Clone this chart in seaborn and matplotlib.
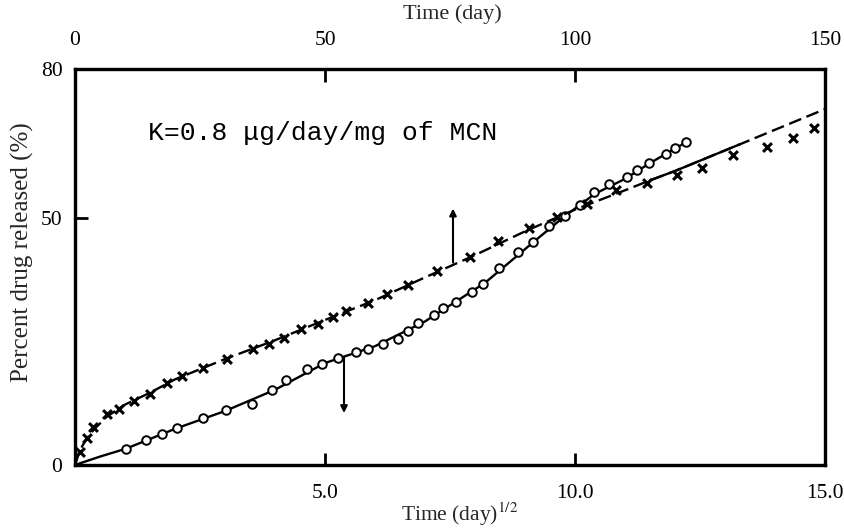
import numpy as np
import pandas as pd
import matplotlib
matplotlib.use("Agg")
import matplotlib.pyplot as plt
import seaborn as sns

# ---- data ----
# crosses: plotted against Time (day) on the top axis
cross_days = [1.0, 2.4, 3.6, 6.4, 8.8, 11.8, 15.0, 18.4, 21.4, 25.6, 30.4, 35.6,
              38.8, 41.8, 45.2, 48.6, 51.6, 54.2, 58.6, 62.4, 66.6, 72.4, 79.0,
              84.6, 90.8, 96.4, 102.4, 108.2, 114.4, 120.4, 125.4, 131.6, 138.4,
              143.6, 147.8]
cross_pct = [2.6, 5.5, 7.6, 10.3, 11.3, 13.0, 14.4, 16.6, 18.0, 19.6, 21.5, 23.5,
             24.5, 25.7, 27.5, 28.5, 29.9, 31.2, 32.8, 34.6, 36.4, 39.1, 42.1,
             45.3, 47.8, 50.2, 52.8, 55.5, 56.9, 58.5, 59.9, 62.6, 64.2, 66.0, 68.0]
# fitted curve through the crosses (top axis)
cross_fit_days = [0, 1, 2.4, 4, 6.4, 10, 15, 20, 30, 40, 50, 60, 70, 80, 90,
                  100, 110, 115, 120, 133, 150]
cross_fit_pct = [0, 3.0, 5.5, 7.4, 9.8, 12.2, 14.6, 17.3, 21.4, 25.2, 29.3, 33.3,
                 37.9, 42.4, 47.2, 51.6, 55.5, 57.5, 59.4, 64.8, 71.9]
# open circles: plotted against Time (day)^1/2 on the bottom axis
circle_sqrt = [1.02, 1.42, 1.74, 2.04, 2.56, 3.02, 3.54, 3.94, 4.22, 4.64, 4.94,
               5.26, 5.62, 5.86, 6.16, 6.46, 6.66, 6.86, 7.18, 7.36, 7.62, 7.94,
               8.16, 8.48, 8.86, 9.16, 9.48, 9.80, 10.10, 10.38, 10.68, 11.04,
               11.24, 11.48, 11.82, 12.00, 12.22]
circle_pct = [3.2, 5.1, 6.3, 7.5, 9.5, 11.1, 12.3, 15.2, 17.2, 19.4, 20.4, 21.7,
              22.9, 23.5, 24.5, 25.5, 27.0, 28.7, 30.4, 31.8, 33.0, 35.0, 36.6,
              39.7, 43.1, 45.1, 48.2, 50.4, 52.6, 55.1, 56.7, 58.1, 59.5, 61.1,
              62.8, 64.0, 65.2]
circle_fit_sqrt = [0, 0.5, 1.02, 2, 3, 4, 5, 6, 7, 7.6, 8.2, 8.6, 9.2, 9.8,
                   10.4, 11.0, 11.5, 12.22]
circle_fit_pct = [0, 1.7, 3.3, 7.3, 10.9, 15.2, 20.6, 24.0, 29.0, 32.9, 36.8,
                  40.2, 45.3, 50.3, 54.8, 57.8, 61.0, 65.2]
solid_segment_days = [115, 133]

bottom_ticks = [5.0, 10.0, 15.0]
bottom_tick_labels = ["5.0", "10.0", "15.0"]
top_ticks = [0, 50, 100, 150]
y_ticks = [0, 50, 80]
annotation = "K=0.8 \u03bcg/day/mg of MCN"
up_arrow_day = 75.6
up_arrow_pct = [40.9, 51.8]
down_arrow_sqrt = 5.38
down_arrow_pct = [21.7, 10.5]

# ---- styling ----
sns.set_theme(style="white")
plt.rcParams["font.family"] = ["Liberation Serif", "DejaVu Serif"]
plt.rcParams["mathtext.fontset"] = "stix"

W, H = 844, 530
fig = plt.figure(figsize=(W / 100, H / 100), dpi=100)
ax = fig.add_axes([75 / W, 1 - 465 / H, 750 / W, 396 / H])
ax2 = ax.twiny()

ax.set_xlim(0, 15)
ax.set_ylim(0, 80)
ax2.set_xlim(0, 150)

# circle series (bottom axis)
circ_fit = pd.DataFrame({"x": circle_fit_sqrt, "y": circle_fit_pct})
sns.lineplot(data=circ_fit, x="x", y="y", ax=ax, color="black", lw=1.7,
             sort=False, estimator=None)
circ = pd.DataFrame({"x": circle_sqrt, "y": circle_pct})
sns.scatterplot(data=circ, x="x", y="y", ax=ax, marker="o", s=38,
                facecolor="white", edgecolor="black", linewidth=1.4, zorder=5)

# cross series (top axis)
cf = pd.DataFrame({"x": cross_fit_days, "y": cross_fit_pct})
sns.lineplot(data=cf, x="x", y="y", ax=ax2, color="black", lw=1.7,
             sort=False, estimator=None)
ax2.lines[-1].set_dashes([5.5, 2.4])
seg = cf[(cf["x"] >= solid_segment_days[0]) & (cf["x"] <= solid_segment_days[1])]
sns.lineplot(data=seg, x="x", y="y", ax=ax2, color="black", lw=1.7,
             sort=False, estimator=None)
cr = pd.DataFrame({"x": cross_days, "y": cross_pct})
sns.scatterplot(data=cr, x="x", y="y", ax=ax2, marker="x", s=40,
                color="black", linewidth=2.2, zorder=5)

# arrows
ax2.annotate("", xy=(up_arrow_day, up_arrow_pct[1]),
             xytext=(up_arrow_day, up_arrow_pct[0]),
             arrowprops=dict(arrowstyle="-|>", color="black", lw=1.5,
                             mutation_scale=10, shrinkA=0, shrinkB=0))
ax.annotate("", xy=(down_arrow_sqrt, down_arrow_pct[1]),
            xytext=(down_arrow_sqrt, down_arrow_pct[0]),
            arrowprops=dict(arrowstyle="-|>", color="black", lw=1.5,
                            mutation_scale=10, shrinkA=0, shrinkB=0))

# text annotation
ax.text(0.097, 0.838, annotation, transform=ax.transAxes,
        family=["Liberation Mono", "DejaVu Sans Mono"], fontsize=19,
        va="center", ha="left", color="black")

# ticks & spines
ax.set_xticks(bottom_ticks, bottom_tick_labels)
ax.set_yticks(y_ticks, [str(v) for v in y_ticks])
ax2.set_xticks(top_ticks, [str(v) for v in top_ticks])
ax.tick_params(axis="x", direction="in", length=9, width=2, pad=14,
               labelsize=15.5, colors="black", top=False, bottom=True)
ax.tick_params(axis="y", direction="in", length=9, width=2, pad=9,
               labelsize=15.5, colors="black", left=True, right=False)
ax2.tick_params(axis="x", direction="in", length=9, width=2, pad=14,
                labelsize=15.5, colors="black", top=True, bottom=False)
for a in (ax, ax2):
    a.set_xlabel("")
    a.set_ylabel("")
    for sp in a.spines.values():
        sp.set_linewidth(2.3)
        sp.set_color("black")
        sp.set_visible(True)

fig.text(460 / W, 1 - 521 / H, "Time (day)$^{1/2}$", fontsize=15.5,
         ha="center", va="baseline")
fig.text(452 / W, 1 - 14 / H, "Time (day)", fontsize=16,
         ha="center", va="center")
fig.text(22 / W, 1 - 252 / H, "Percent drug released (%)", fontsize=18,
         rotation=90, ha="center", va="center")

fig.savefig("out.png", dpi=100)
